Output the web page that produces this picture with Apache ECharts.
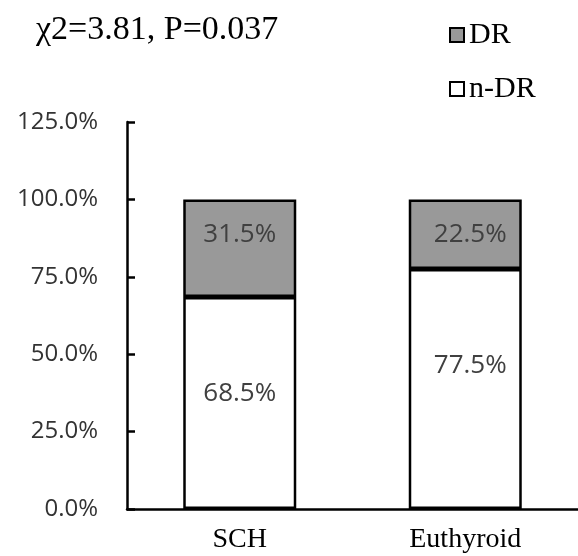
<!DOCTYPE html>
<html>
<head>
<meta charset="utf-8">
<script src="https://cdn.jsdelivr.net/npm/echarts@6/dist/echarts.min.js"></script>
<style>
html,body{margin:0;padding:0;background:#fff;}
#chart{width:578px;height:556px;}
</style>
</head>
<body>
<div id="chart"></div>
<script>
var categories = ['SCH', 'Euthyroid'];
var nDR = [68.5, 77.5];
var DR = [31.5, 22.5];
var yTicks = [0, 25, 50, 75, 100, 125];
var titleText = 'χ2=3.81, P=0.037';

var chart = echarts.init(document.getElementById('chart'), null, {renderer: 'canvas'});
var serif = '"Liberation Serif", "Times New Roman", serif';
var sans = '"Open Sans", "DejaVu Sans", sans-serif';

function withOffset(arr) {
  return arr.map(function (v, i) {
    return { value: v, label: { offset: [i === 1 ? 5 : 0, 0] } };
  });
}

var option = {
  animation: false,
  backgroundColor: '#fff',
  title: {
    text: titleText,
    left: 31,
    top: 8,
    textStyle: { fontFamily: serif, fontSize: 34, fontWeight: 'normal', color: '#000' }
  },
  legend: {
    data: ['DR', 'n-DR'],
    orient: 'vertical',
    left: 444,
    top: 15,
    itemGap: 24,
    itemWidth: 14,
    itemHeight: 14,
    icon: 'rect',
    textStyle: { fontFamily: serif, fontSize: 30, color: '#000' }
  },
  grid: { left: 127, right: 0, top: 122, bottom: 47, containLabel: false },
  xAxis: {
    type: 'category',
    data: categories,
    axisLine: { lineStyle: { color: '#000', width: 2.5 } },
    axisTick: { show: false },
    axisLabel: { fontFamily: serif, fontSize: 28, color: '#000', margin: 17 }
  },
  yAxis: {
    type: 'value',
    min: yTicks[0],
    max: yTicks[yTicks.length - 1],
    interval: 25,
    splitLine: { show: false },
    axisLine: { show: true, lineStyle: { color: '#000', width: 2.5 } },
    axisTick: { show: true, inside: true, length: 8, lineStyle: { color: '#000', width: 2.5 } },
    axisLabel: {
      fontFamily: sans, fontSize: 24, color: '#333', margin: 29,
      formatter: function (v) { return v.toFixed(1) + '%'; }
    }
  },
  series: [
    {
      name: 'n-DR',
      type: 'bar',
      stack: 'total',
      barWidth: 113,
      data: withOffset(nDR),
      itemStyle: { color: '#fff', borderColor: '#000', borderWidth: 2.5 },
      label: {
        show: true, position: 'insideTop', distance: 84,
        fontFamily: sans, fontSize: 26, color: '#404040',
        formatter: function (p) { return p.value.toFixed(1) + '%'; }
      }
    },
    {
      name: 'DR',
      type: 'bar',
      stack: 'total',
      barWidth: 113,
      data: withOffset(DR),
      itemStyle: { color: '#999999', borderColor: '#000', borderWidth: 2.5 },
      label: {
        show: true, position: 'insideTop', distance: 22,
        fontFamily: sans, fontSize: 26, color: '#404040',
        formatter: function (p) { return p.value.toFixed(1) + '%'; }
      }
    }
  ]
};
chart.setOption(option);
</script>
</body>
</html>
